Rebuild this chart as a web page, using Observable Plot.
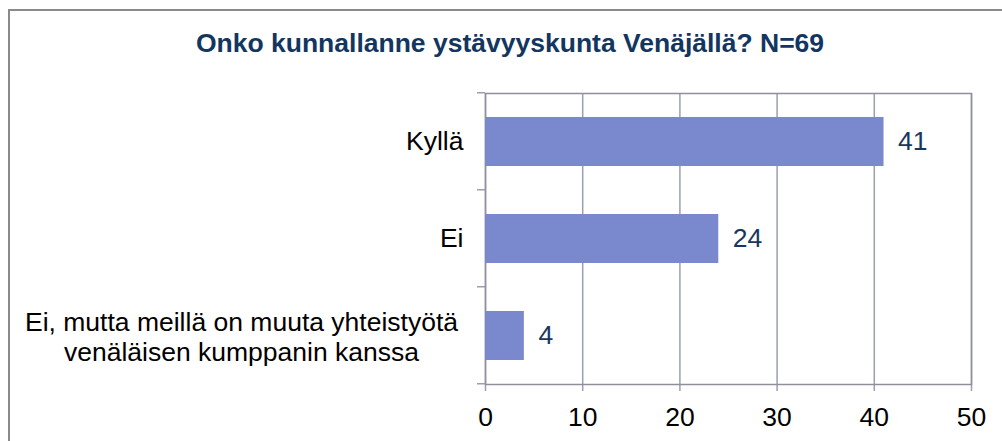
<!DOCTYPE html>
<html>
<head>
<meta charset="utf-8">
<script src="https://cdn.jsdelivr.net/npm/d3@7"></script>
<script src="https://cdn.jsdelivr.net/npm/@observablehq/plot@0.6"></script>
<style>
  body { margin: 0; background: #fff; overflow: hidden; font-family: "Liberation Sans", Arial, sans-serif; }
  #wrap { position: relative; width: 1002px; height: 441px; overflow: hidden; background: #fff; }
  #border { position: absolute; left: 8px; top: 9px; width: 1200px; height: 700px;
            border-left: 2px solid #8a8a8a; border-top: 2px solid #8a8a8a; }
  #title { position: absolute; left: 18px; top: 28px; width: 984px; text-align: center;
           font: bold 26.5px/30px "Liberation Sans", Arial, sans-serif; color: #12365f; white-space: nowrap; }
  #chart { position: absolute; left: 0; top: 80px; }
</style>
</head>
<body>
<div id="wrap">
  <div id="border"></div>
  <div id="title">Onko kunnallanne ystävyyskunta Venäjällä? N=69</div>
  <div id="chart"></div>
</div>
<script>
const categories = ["Kyllä", "Ei", "Ei, mutta meillä on muuta yhteistyötä\nvenäläisen kumppanin kanssa"];
const values = [41, 24, 4];
const xTicks = [0, 10, 20, 30, 40, 50];

const data = categories.map((c, i) => ({cat: c, value: values[i]}));
const single = data.filter(d => !d.cat.includes("\n"));
const multi = data.filter(d => d.cat.includes("\n"));

const gridColor = "#9a9fb1";
const font = "Liberation Sans, Arial, sans-serif";
const fs = 26.5;

function boundaryTicks(index, scales, vals, dims) {
  const y = scales.y;
  const step = y(categories[1]) - y(categories[0]);
  const g = d3.create("svg:g");
  const ys = categories.map(c => y(c) - step * 0.25);
  ys.push(y(categories[categories.length - 1]) + step * 0.75);
  const left = dims.marginLeft;
  for (const yy of ys) {
    g.append("line").attr("x1", left - 8).attr("x2", left).attr("y1", yy).attr("y2", yy)
      .attr("stroke", gridColor).attr("stroke-width", 1.5);
  }
  return g.node();
}

const chart = Plot.plot({
  width: 1002,
  height: 361,
  marginLeft: 485,
  marginRight: 31,
  marginTop: 13,
  marginBottom: 57,
  style: {fontFamily: font, fontSize: fs + "px", color: "#000", background: "transparent"},
  x: {domain: [0, 50], ticks: xTicks, tickSize: 0, tickPadding: 23, label: null},
  y: {domain: categories, paddingInner: 0.5, paddingOuter: 0.25, axis: null},
  marks: [
    Plot.ruleX(xTicks, {stroke: gridColor, strokeWidth: 1.5, insetBottom: -7}),
    Plot.frame({stroke: "#8e919c", strokeWidth: 1.5}),
    boundaryTicks,
    Plot.barX(data, {x: "value", y: "cat", fill: "#7a89cd"}),
    Plot.text(data, {x: "value", y: "cat", text: d => String(d.value), textAnchor: "start", dx: 14,
                     fill: "#17375e", fontSize: fs}),
    Plot.text(single, {y: "cat", text: "cat", frameAnchor: "left", textAnchor: "end", dx: -22,
                       fill: "#000", fontSize: fs}),
    Plot.text(multi, {y: "cat", text: "cat", frameAnchor: "left", textAnchor: "middle", dx: -244,
                      lineHeight: 1.13, fill: "#000", fontSize: fs})
  ]
});
document.getElementById("chart").appendChild(chart);
</script>
</body>
</html>
